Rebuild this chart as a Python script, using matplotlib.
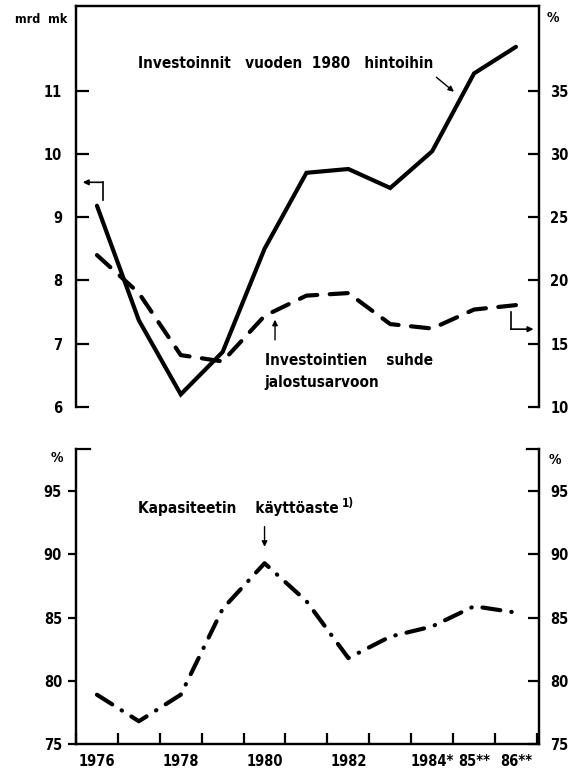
import matplotlib
matplotlib.use("Agg")
import matplotlib.pyplot as plt
from matplotlib import font_manager as fm
from matplotlib.ticker import FixedLocator, NullFormatter

# Data
years = [1976, 1977, 1978, 1979, 1980, 1981, 1982, 1983, 1984, 1985, 1986]
investment_bn = [9.18, 7.37, 6.20, 6.87, 8.50, 9.70, 9.76, 9.46, 10.04, 11.27, 11.69]
investment_share = [22.0, 19.0, 14.1, 13.6, 17.2, 18.8, 19.0, 16.55, 16.2, 17.7, 18.05]
capacity_util = [78.9, 76.8, 78.9, 85.7, 89.3, 86.3, 81.8, 83.5, 84.3, 85.9, 85.4]

left_ticks_top = [6, 7, 8, 9, 10, 11]
right_ticks_top = [10, 15, 20, 25, 30, 35]
ticks_bottom = [75, 80, 85, 90, 95]
label_years = [1976, 1978, 1980, 1982, 1984, 1985, 1986]
year_labels = ["1976", "1978", "1980", "1982", "1984*", "85**", "86**"]


def pick_condensed_family():
    """Return names of installed narrow/condensed families."""
    narrow = []
    for f in fm.fontManager.ttflist:
        st = str(f.stretch).lower()
        if ("narrow" in f.name.lower() or "condensed" in f.name.lower()
                or "condensed" in st):
            narrow.append(f.name)
        elif "condensed" in str(getattr(f, "fname", "")).lower():
            narrow.append(f.name)
    return narrow


narrow = pick_condensed_family()
if narrow:
    FAMILY = [narrow[0], "DejaVu Sans"]
    STRETCH = "condensed"
else:
    FAMILY = ["Liberation Sans", "DejaVu Sans"]
    STRETCH = "normal"

plt.rcParams["font.family"] = FAMILY
plt.rcParams["font.stretch"] = STRETCH
plt.rcParams["font.weight"] = "bold"
plt.rcParams["lines.scale_dashes"] = False

fig = plt.figure(figsize=(5.78, 7.69), dpi=100)

XLIM = (1975.5, 1986.55)
AX_LW = 1.6
LINE_LW = 3.0
TICK_FS = 10.5

# ---------- upper panel ----------
ax1 = fig.add_axes([0.1315, 0.4707, 0.801, 0.5215])
ax1r = ax1.twinx()
ax1.set_xlim(*XLIM)
ax1.set_ylim(6, 12.335)
ax1r.set_ylim(10, 41.675)

for a in (ax1, ax1r):
    a.spines["bottom"].set_visible(False)
    for s in ("left", "right", "top"):
        a.spines[s].set_linewidth(AX_LW)
    a.set_xticks([])

ax1.set_yticks(left_ticks_top)
ax1.set_yticklabels([str(t) for t in left_ticks_top])
ax1r.set_yticks(right_ticks_top)
ax1r.set_yticklabels([str(t) for t in right_ticks_top])
ax1.tick_params(axis="y", direction="in", length=9, width=AX_LW,
                labelsize=TICK_FS, pad=10)
ax1r.tick_params(axis="y", direction="in", length=8, width=AX_LW,
                 labelsize=TICK_FS, pad=8)

ax1.plot(years, investment_bn, color="black", lw=LINE_LW,
         solid_joinstyle="miter", solid_capstyle="round", zorder=3)
ax1r.plot(years, investment_share, color="black", lw=LINE_LW,
          dashes=(13, 9), dash_capstyle="round", zorder=3)

txt_kw = dict(fontsize=11, fontweight="bold", color="black")
ax1.text(1976.98, 11.42, "Investoinnit   vuoden  1980   hintoihin",
         ha="left", va="center", **txt_kw)
ax1.annotate("", xy=(1984.52, 10.98), xytext=(1984.10, 11.21),
             arrowprops=dict(arrowstyle="-|>", color="black", lw=1.0,
                             mutation_scale=8, shrinkA=0, shrinkB=0))

# bracket arrow pointing to the left axis
ax1.plot([1976.14, 1976.14], [9.27, 9.55], color="black", lw=1.2)
ax1.annotate("", xy=(1975.66, 9.55), xytext=(1976.14, 9.55),
             arrowprops=dict(arrowstyle="-|>", color="black", lw=1.2,
                             mutation_scale=8, shrinkA=0, shrinkB=0))
# bracket arrow pointing to the right axis
ax1.plot([1985.88, 1985.88], [7.50, 7.23], color="black", lw=1.2)
ax1.annotate("", xy=(1986.42, 7.23), xytext=(1985.88, 7.23),
             arrowprops=dict(arrowstyle="-|>", color="black", lw=1.2,
                             mutation_scale=8, shrinkA=0, shrinkB=0))

ax1.annotate("", xy=(1980.25, 7.38), xytext=(1980.25, 7.06),
             arrowprops=dict(arrowstyle="-|>", color="black", lw=1.0,
                             mutation_scale=8, shrinkA=0, shrinkB=0))
ax1.text(1980.0, 6.74, "Investointien    suhde", ha="left", va="center", **txt_kw)
ax1.text(1980.0, 6.39, "jalostusarvoon", ha="left", va="center", **txt_kw)

fig.text(0.071, 0.975, "mrd  mk", ha="center", va="center",
         fontsize=9, fontweight="bold")
fig.text(0.957, 0.977, "%", ha="center", va="center",
         fontsize=10, fontweight="bold")

# ---------- lower panel ----------
ax2 = fig.add_axes([0.1315, 0.0325, 0.801, 0.3836])
ax2r = ax2.twinx()
ax2.set_xlim(*XLIM)
ax2.set_ylim(75, 98.34)
ax2r.set_ylim(75, 98.34)

for a in (ax2, ax2r):
    a.spines["top"].set_visible(False)
    for s in ("left", "right", "bottom"):
        a.spines[s].set_linewidth(AX_LW)

ax2.set_yticks(ticks_bottom)
ax2.set_yticklabels([str(t) for t in ticks_bottom])
ax2r.set_yticks(ticks_bottom)
ax2r.set_yticklabels([str(t) for t in ticks_bottom])
ax2.tick_params(axis="y", direction="out", length=6, width=AX_LW,
                labelsize=TICK_FS, pad=4)
ax2r.tick_params(axis="y", direction="in", length=8, width=AX_LW,
                 labelsize=TICK_FS, pad=8)

half_years = [y - 0.5 for y in years] + [years[-1] + 0.5]
ax2.xaxis.set_major_locator(FixedLocator(half_years))
ax2.xaxis.set_major_formatter(NullFormatter())
ax2.xaxis.set_minor_locator(FixedLocator(label_years))
ax2.set_xticklabels(year_labels, minor=True)
ax2.tick_params(axis="x", which="major", direction="in", length=8,
                width=AX_LW)
ax2.tick_params(axis="x", which="minor", length=0, labelsize=TICK_FS, pad=7)

# corner stubs at the top of the lower frame
ax2.plot([0, 0.03], [1, 1], transform=ax2.transAxes, color="black",
         lw=AX_LW, clip_on=False, solid_capstyle="projecting")
ax2.plot([0.975, 1], [1, 1], transform=ax2.transAxes, color="black",
         lw=AX_LW, clip_on=False, solid_capstyle="projecting")

ax2.plot(years, capacity_util, color="black", lw=LINE_LW,
         dashes=(13, 8, 0.3, 8), dash_capstyle="round", zorder=3)

ax2.text(1976.98, 93.6, "Kapasiteetin    käyttöaste", ha="left", va="center",
         **txt_kw)
ax2.text(1981.85, 94.0, "1)", ha="left", va="center", fontsize=8.5,
         fontweight="bold")
ax2.annotate("", xy=(1980.0, 90.6), xytext=(1980.0, 92.2),
             arrowprops=dict(arrowstyle="-|>", color="black", lw=1.0,
                             mutation_scale=8, shrinkA=0, shrinkB=0))

fig.text(0.099, 0.404, "%", ha="center", va="center",
         fontsize=10, fontweight="bold")
fig.text(0.960, 0.402, "%", ha="center", va="center",
         fontsize=10, fontweight="bold")

fig.savefig("out.png", dpi=100)
